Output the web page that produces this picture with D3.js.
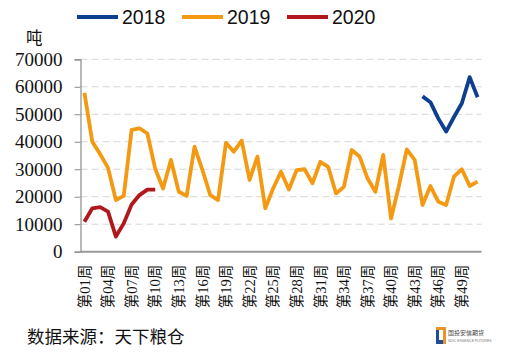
<!DOCTYPE html>
<html>
<head>
<meta charset="utf-8">
<script src="https://cdn.jsdelivr.net/npm/d3@7"></script>
<style>
  html, body { margin: 0; padding: 0; background: #fff; }
  svg { display: block; }
</style>
</head>
<body>
<svg id="chart" width="508" height="361"></svg>
<script>
// ---------------- DATA ----------------
const categories = [
  "第01周","第02周","第03周","第04周","第05周","第06周","第07周","第08周","第09周","第10周",
  "第11周","第12周","第13周","第14周","第15周","第16周","第17周","第18周","第19周","第20周",
  "第21周","第22周","第23周","第24周","第25周","第26周","第27周","第28周","第29周","第30周",
  "第31周","第32周","第33周","第34周","第35周","第36周","第37周","第38周","第39周","第40周",
  "第41周","第42周","第43周","第44周","第45周","第46周","第47周","第48周","第49周","第50周",
  "第51周"
];
const tickLabels = ["第01周","第04周","第07周","第10周","第13周","第16周","第19周","第22周","第25周",
  "第28周","第31周","第34周","第37周","第40周","第43周","第46周","第49周"];
const yTicks = [0, 10000, 20000, 30000, 40000, 50000, 60000, 70000];

// 2018: weeks 44..51
const weeks2018 = ["第44周","第45周","第46周","第47周","第48周","第49周","第50周","第51周"];
const values2018 = [56500, 54400, 48500, 43700, 49000, 54000, 63500, 56200];

// 2019: weeks 1..51
const values2019 = [
  57800, 40000, 35500, 30500, 18800, 20300, 44300, 44900, 43000, 30200,
  23000, 33400, 21800, 20300, 38200, 29800, 20600, 18800, 39600, 36400,
  40400, 26100, 34600, 15800, 23000, 29100, 22600, 29700, 30000, 24900,
  32700, 30900, 21200, 23600, 37000, 34600, 26700, 21800, 35200, 12100,
  24000, 37200, 33400, 17000, 23900, 18200, 17000, 27300, 30000, 23900,
  25500
];

// 2020: weeks 1..10
const weeks2020 = ["第01周","第02周","第03周","第04周","第05周","第06周","第07周","第08周","第09周","第10周"];
const values2020 = [10900, 15800, 16200, 14600, 5500, 10300, 17200, 20600, 22600, 22600];

const seriesNames = ["2018", "2019", "2020"];
const seriesColors = ["#0E3F8E", "#F39A12", "#B0181C"];

// ---------------- CHART ----------------
const svg = d3.select("#chart");
const plotLeft = 80.5, plotRight = 481.5, plotTop = 59.3, plotBottom = 251.7;

const x = d3.scaleBand().domain(categories).range([plotLeft, plotRight]).padding(0);
const cx = c => x(c) + x.bandwidth() / 2;
const y = d3.scaleLinear().domain([0, 70000]).range([plotBottom, plotTop]);

// gridlines
svg.append("g")
  .selectAll("line")
  .data(yTicks.filter(v => v > 0))
  .join("line")
  .attr("x1", plotLeft).attr("x2", plotRight)
  .attr("y1", d => y(d)).attr("y2", d => y(d))
  .attr("stroke", "#d6d6d6")
  .attr("stroke-width", 1)
  .attr("stroke-dasharray", "7,4");

// y axis
const yAxis = svg.append("g")
  .attr("transform", `translate(${plotLeft},0)`)
  .call(d3.axisLeft(y).tickValues(yTicks).tickSize(6).tickPadding(12).tickFormat(d3.format("d")));
yAxis.select(".domain").attr("stroke", "#8c8c8c").attr("stroke-width", 1.2);
yAxis.selectAll(".tick line").attr("stroke", "#8c8c8c");
yAxis.selectAll("text")
  .attr("font-family", "'Liberation Serif', 'Times New Roman', serif")
  .attr("font-size", "19px")
  .attr("fill", "#111");

// x axis
const xAxis = svg.append("g")
  .attr("transform", `translate(0,${plotBottom})`)
  .call(d3.axisBottom(x).tickValues(tickLabels).tickSize(0));
xAxis.select(".domain").remove();
xAxis.selectAll("text")
  .attr("font-family", "'Liberation Serif', 'Noto Sans CJK SC', serif")
  .attr("font-size", "14.5px")
  .attr("fill", "#111")
  .attr("text-anchor", "end")
  .attr("transform", "rotate(-90)")
  .attr("x", -13)
  .attr("y", 0)
  .attr("dy", "0.36em");

svg.append("line")
  .attr("x1", plotLeft).attr("x2", plotRight)
  .attr("y1", plotBottom).attr("y2", plotBottom)
  .attr("stroke", "#9a9a9a").attr("stroke-width", 2);

// lines
const line = d3.line()
  .x(d => cx(d.c))
  .y(d => y(d.v))
  .curve(d3.curveLinear);

const data2019 = categories.map((c, i) => ({ c, v: values2019[i] }));
const data2018 = weeks2018.map((c, i) => ({ c, v: values2018[i] }));
const data2020 = weeks2020.map((c, i) => ({ c, v: values2020[i] }));

[[data2019, seriesColors[1]], [data2020, seriesColors[2]], [data2018, seriesColors[0]]].forEach(([d, col]) => {
  svg.append("path")
    .datum(d)
    .attr("d", line)
    .attr("fill", "none")
    .attr("stroke", col)
    .attr("stroke-width", 3.8)
    .attr("stroke-linejoin", "round")
    .attr("stroke-linecap", "butt");
});

// legend
const legendX = [77, 182, 287];
const legend = svg.append("g");
seriesNames.forEach((name, i) => {
  legend.append("line")
    .attr("x1", legendX[i]).attr("x2", legendX[i] + 41)
    .attr("y1", 17).attr("y2", 17)
    .attr("stroke", seriesColors[i]).attr("stroke-width", 4);
  legend.append("text")
    .attr("x", legendX[i] + 45).attr("y", 23.5)
    .attr("font-family", "'Liberation Sans', Arial, sans-serif")
    .attr("font-size", "19.5px")
    .attr("fill", "#111")
    .text(name);
});

// unit label
svg.append("text")
  .attr("x", 26).attr("y", 44)
  .attr("font-family", "'Noto Sans CJK SC', sans-serif")
  .attr("font-size", "16.5px")
  .attr("fill", "#111")
  .text("吨");

// source
svg.append("text")
  .attr("x", 27).attr("y", 343)
  .attr("font-family", "'Noto Sans CJK SC', sans-serif")
  .attr("font-size", "17.5px")
  .attr("fill", "#111")
  .text("数据来源：天下粮仓");

// logo
const logo = svg.append("g").attr("transform", "translate(436,327)");
logo.append("rect").attr("x", 0).attr("y", 0).attr("width", 10).attr("height", 17).attr("fill", "#E8962A");
logo.append("rect").attr("x", 0).attr("y", 3).attr("width", 7).attr("height", 14).attr("fill", "#1F4E9A");
logo.append("rect").attr("x", 3).attr("y", 3).attr("width", 4).attr("height", 10).attr("fill", "#ffffff");
logo.append("text").attr("x", 12).attr("y", 8)
  .attr("font-family", "'Noto Sans CJK SC', sans-serif").attr("font-size", "6px").attr("fill", "#444")
  .text("国投安信期货");
logo.append("text").attr("x", 12).attr("y", 15)
  .attr("font-family", "'Liberation Sans', sans-serif").attr("font-size", "3.5px").attr("fill", "#777")
  .text("SDIC ESSENCE FUTURES");
</script>
</body>
</html>
